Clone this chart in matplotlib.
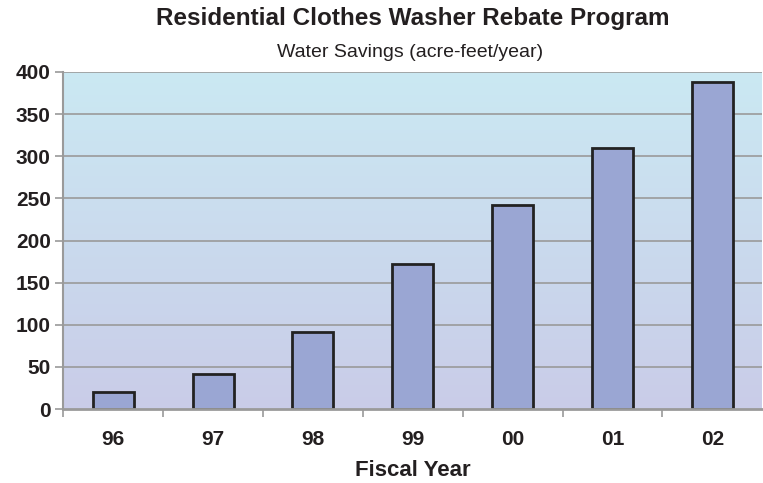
import matplotlib.pyplot as plt
import numpy as np
from matplotlib.colors import LinearSegmentedColormap

# Water savings per fiscal year (acre-feet/year)
years = ['96', '97', '98', '99', '00', '01', '02']
savings = [20, 42, 91, 172, 242, 310, 388]

yticks = np.arange(0, 401, 50)

barColor = '#9AA6D3'
topColor = '#CBE9F3'
bottomColor = '#C9CCE8'
textColor = '#231F20'

plt.rcParams['font.family'] = ['Liberation Sans', 'DejaVu Sans']

fig = plt.figure(figsize=(7.63, 4.83), dpi=100)
ax = fig.add_axes([0.083, 0.153, 0.916, 0.698])

x = np.arange(len(years))
ax.set_xlim(-0.5, len(years) - 0.5)
ax.set_ylim(0, 400)

# Vertical gradient background
grad = LinearSegmentedColormap.from_list('bg', [bottomColor, topColor])
ax.imshow(np.linspace(0, 1, 256).reshape(-1, 1), cmap=grad, origin='lower',
          aspect='auto', extent=(-0.5, len(years) - 0.5, 0, 400), zorder=0)

# Horizontal grid lines
for y in yticks[1:]:
    ax.axhline(y, color='#9A9A9A', linewidth=1.2, zorder=1)

ax.bar(x, savings, width=0.41, color=barColor, edgecolor='#222222',
       linewidth=2, zorder=3)

ax.set_yticks(yticks)
ax.set_yticklabels([str(v) for v in yticks], fontsize=15, fontweight='bold',
                   color=textColor)
ax.set_xticks(x)
ax.set_xticklabels(years, fontsize=15, fontweight='bold', color=textColor)
ax.set_xticks(np.arange(-0.5, len(years) - 1), minor=True)
ax.tick_params(axis='x', which='major', length=0, pad=15)
ax.tick_params(axis='x', which='minor', length=6, color='#9A9A9A', width=1.2)
ax.tick_params(axis='y', length=6, color='#9A9A9A', width=1.2, pad=3)

for side in ['top', 'right']:
    ax.spines[side].set_visible(False)
ax.spines['left'].set_color('#9A9A9A')
ax.spines['left'].set_linewidth(1.5)
ax.spines['bottom'].set_color('#9A9A9A')
ax.spines['bottom'].set_linewidth(2)
ax.spines['bottom'].set_zorder(4)

ax.set_xlabel('Fiscal Year', fontsize=16, fontweight='bold', labelpad=8,
              color=textColor)

fig.text(0.541, 0.962, 'Residential Clothes Washer Rebate Program',
         ha='center', va='center', fontsize=17.5, fontweight='bold', color=textColor)
fig.text(0.537, 0.892, 'Water Savings (acre-feet/year)',
         ha='center', va='center', fontsize=14, color=textColor)

fig.savefig('out.png', dpi=100)
